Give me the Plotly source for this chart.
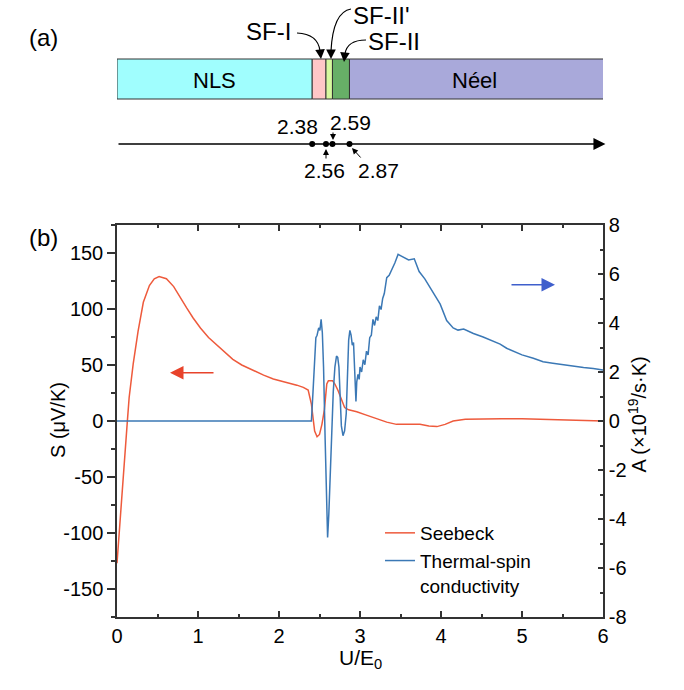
import plotly.graph_objects as go

# ---------------- data ----------------
# Seebeck coefficient S (µV/K) vs U/E0
seebeck_x = [0.0, 0.03, 0.06, 0.09, 0.127, 0.15, 0.2, 0.26, 0.325, 0.4, 0.46, 0.52, 0.61, 0.7, 0.78,
             0.86, 0.94, 1.03, 1.13, 1.23, 1.33, 1.43, 1.54, 1.67, 1.81, 1.93, 2.08, 2.22, 2.30, 2.36,
             2.40, 2.44, 2.47, 2.50, 2.53, 2.56, 2.59, 2.61, 2.66, 2.69, 2.73, 2.77, 2.81, 2.86, 2.96,
             3.07, 3.17, 3.25, 3.33, 3.45, 3.6, 3.74, 3.85, 3.95, 4.05, 4.15, 4.3, 4.5, 4.75, 5.0,
             5.25, 5.5, 5.75, 6.0]
seebeck_S = [-127, -95, -65, -37, -1, 21, 51, 80, 106, 121, 127, 129, 127, 120, 110,
             101, 92, 83, 74.5, 68, 61, 55, 50, 45.5, 41, 37.5, 35, 32, 30, 27.7,
             15, -9, -14, -12, -3, 10, 33, 36, 36, 33, 27, 19, 12, 10, 8.3,
             5.5, 3, 1, -1, -3, -3, -3, -4.5, -5, -3, 0, 1.5, 2, 2, 2,
             1.5, 1, 0.5, 0]

# Thermal-spin conductivity A (x10^19 /s·K) vs U/E0
spin_x = [0.0, 0.5, 1.0, 1.5, 2.0, 2.40, 2.42, 2.44, 2.455, 2.47, 2.49, 2.505, 2.52, 2.535, 2.55,
          2.57, 2.585, 2.60, 2.615, 2.63, 2.65, 2.67, 2.69, 2.71, 2.725, 2.74, 2.755, 2.77, 2.79,
          2.81, 2.83, 2.85, 2.86, 2.875, 2.89, 2.905, 2.92, 2.935, 2.95, 2.96, 2.975, 2.99, 3.0,
          3.02, 3.04, 3.06, 3.08, 3.10, 3.12, 3.14, 3.16, 3.18, 3.2, 3.22, 3.24, 3.26, 3.28, 3.30,
          3.33, 3.36, 3.39, 3.43, 3.47, 3.53, 3.60, 3.67, 3.73, 3.80, 3.86, 3.93, 3.99, 4.07, 4.15,
          4.21, 4.28, 4.40, 4.52, 4.62, 4.73, 4.81, 4.9, 5.0, 5.14, 5.26, 5.38, 5.51, 5.64, 5.76,
          5.88, 6.0]
spin_A = [0, 0, 0, 0, 0, 0, 1.2, 2.6, 3.4, 3.5, 3.8, 3.7, 4.15, 3.6, 2.2,
          -0.8, -3.0, -4.75, -3.8, -2.2, -0.2, 1.2, 2.2, 2.65, 2.6, 2.2, 1.0, -0.2, -0.6,
          -0.4, 0.3, 2.5, 3.3, 3.7, 3.5, 3.1, 3.2, 2.0, 0.8, 1.6, 1.9, 1.7, 2.2,
          2.0, 2.5, 2.3, 2.85, 2.7, 3.4, 3.5, 4.15, 3.9, 4.25, 4.1, 4.7, 4.55, 5.0, 5.2,
          5.85, 5.95, 6.15, 6.45, 6.8, 6.7, 6.57, 6.62, 6.1, 5.8, 5.45, 5.1, 4.77, 4.1, 3.8,
          3.71, 3.75, 3.57, 3.43, 3.3, 3.14, 2.97, 2.85, 2.7, 2.56, 2.42, 2.36, 2.29, 2.23, 2.18,
          2.14, 2.08]

# phase diagram (panel a)
phase_names = ["NLS", "SF-I", "SF-II'", "SF-II", "Néel"]
phase_start = [0.0, 2.41, 2.58, 2.66, 2.87]      # schematic positions as drawn
phase_end = [2.41, 2.58, 2.66, 2.87, 6.02]
phase_colors = ["#A0FEFE", "#FFC7C7", "#D7F99F", "#67AF67", "#A9A9DA"]
boundary_labels = ["2.38", "2.56", "2.59", "2.87"]
boundary_pos = [2.41, 2.58, 2.66, 2.87]

x_ticks = [0, 1, 2, 3, 4, 5, 6]
s_ticks = [-150, -100, -50, 0, 50, 100, 150]
a_ticks = [-8, -6, -4, -2, 0, 2, 4, 6, 8]

RED = "#EE5A3C"
BLUE = "#3B78B5"
FONT = "Liberation Sans, Arial, sans-serif"
AX = "#333333"

W, H = 684, 690
def px2x(px):
    return (px - 117) / 81.0

fig = go.Figure()

fig.add_trace(go.Scatter(x=seebeck_x, y=seebeck_S, mode="lines", name="Seebeck",
                         line=dict(color=RED, width=1.5), xaxis="x", yaxis="y"))
fig.add_trace(go.Scatter(x=spin_x, y=spin_A, mode="lines", name="Thermal-spin<br>conductivity",
                         line=dict(color=BLUE, width=1.5), xaxis="x", yaxis="y2"))
# boundary dots on the U/E0 arrow in panel (a)
fig.add_trace(go.Scatter(x=boundary_pos, y=[144] * len(boundary_pos), mode="markers",
                         marker=dict(color="black", size=6), showlegend=False,
                         xaxis="x", yaxis="y3", hoverinfo="skip"))

shapes = []
annotations = []
# phase bar
for name, s, e, c in zip(phase_names, phase_start, phase_end, phase_colors):
    shapes.append(dict(type="rect", xref="x", yref="y3", x0=s, x1=e, y0=59, y1=99,
                       fillcolor=c, line=dict(color="#333333", width=1), layer="above"))
annotations.append(dict(x=px2x(214), y=80, xref="x", yref="y3",
                        text=phase_names[0], showarrow=False, font=dict(size=22, family=FONT, color="black")))
annotations.append(dict(x=px2x(474), y=80, xref="x", yref="y3",
                        text=phase_names[4], showarrow=False, font=dict(size=22, family=FONT, color="black")))
# SF labels
for txt, cx, cy in [(phase_names[1], 268, 31), (phase_names[2], 381, 15), (phase_names[3], 394, 41)]:
    annotations.append(dict(x=px2x(cx), y=cy, xref="x", yref="y3", text=txt, showarrow=False,
                            font=dict(size=24, family=FONT, color="black")))
# curved pointer arrows
for (sx, sy), (cx, cy), (ex, ey), (hx, hy) in [
        ((297, 33), (318, 34), (320, 51), (321, 59)),
        ((351, 9), (333, 12), (331, 51), (331, 59)),
        ((366, 40), (347, 40), (345, 54), (344, 62))]:
    shapes.append(dict(type="path", xref="x", yref="y3",
                       path=f"M {px2x(sx)},{sy} Q {px2x(cx)},{cy} {px2x(ex)},{ey}",
                       line=dict(color="black", width=1.2)))
    annotations.append(dict(x=px2x(hx), y=hy, ax=px2x(ex), ay=ey - 2, xref="x", yref="y3",
                            axref="x", ayref="y3", text="", showarrow=True, arrowhead=2,
                            arrowsize=1.6, arrowwidth=1.2, arrowcolor="black", standoff=0))
# U/E0 arrow in panel (a)
annotations.append(dict(x=6.03, y=144, ax=0, ay=144, xref="x", yref="y3", axref="x", ayref="y3",
                        text="", showarrow=True, arrowhead=2, arrowsize=1.6, arrowwidth=1.5,
                        arrowcolor="black", standoff=0))
annotations.append(dict(x=px2x(614), y=168, xref="x", yref="y3", text="U/E<sub>0</sub>",
                        showarrow=False, font=dict(size=17, family=FONT, color="black")))
# boundary labels
lab_pos = {"2.38": (297.5, 126), "2.59": (350, 122), "2.56": (324, 170), "2.87": (378, 170)}
for lab in boundary_labels:
    cx, cy = lab_pos[lab]
    annotations.append(dict(x=px2x(cx), y=cy, xref="x", yref="y3", text=lab, showarrow=False,
                            font=dict(size=21, family=FONT, color="black")))
for (tx, ty), (hx, hy) in [((333, 131), (333, 140)), ((326, 160), (326, 149)), ((362, 159), (352, 148))]:
    annotations.append(dict(x=px2x(hx), y=hy, ax=px2x(tx), ay=ty, xref="x", yref="y3",
                            axref="x", ayref="y3", text="", showarrow=True, arrowhead=2,
                            arrowsize=1.2, arrowwidth=1, arrowcolor="black", standoff=0))

# direction arrows in panel (b)
annotations.append(dict(x=px2x(170), y=43, ax=px2x(215), ay=43, xref="x", yref="y", axref="x", ayref="y",
                        text="", showarrow=True, arrowhead=2, arrowsize=1.8, arrowwidth=1.5,
                        arrowcolor="#E8432B", standoff=0))
annotations.append(dict(x=px2x(555), y=121.6, ax=px2x(510), ay=121.6, xref="x", yref="y", axref="x",
                        ayref="y", text="", showarrow=True, arrowhead=2, arrowsize=1.8, arrowwidth=1.5,
                        arrowcolor="#3F5FCC", standoff=0))

# panel labels and axis titles
annotations.append(dict(x=27 / W, y=1 - 22 / H, xref="paper", yref="paper", text="(a)", showarrow=False,
                        font=dict(size=24, family=FONT, color="black")))
annotations.append(dict(x=27 / W, y=1 - 237 / H, xref="paper", yref="paper", text="(b)", showarrow=False,
                        font=dict(size=24, family=FONT, color="black")))
annotations.append(dict(x=45 / W, y=1 - 420 / H, xref="paper", yref="paper", text="S (μV/K)",
                        textangle=-90, showarrow=False, font=dict(size=20, family=FONT, color="black")))
annotations.append(dict(x=651 / W, y=1 - 415 / H, xref="paper", yref="paper",
                        text="A (×10<sup>19</sup>/s·K)", textangle=-90, showarrow=False,
                        font=dict(size=20, family=FONT, color="black")))
annotations.append(dict(x=360 / W, y=1 - 674 / H, xref="paper", yref="paper", text="U/E<sub>0</sub>",
                        showarrow=False, font=dict(size=21, family=FONT, color="black")))

fig.update_layout(
    width=W, height=H,
    margin=dict(l=0, r=0, t=0, b=0, autoexpand=False),
    paper_bgcolor="white", plot_bgcolor="white",
    font=dict(family=FONT, size=20, color="black"),
    shapes=shapes, annotations=annotations,
    showlegend=True,
    legend=dict(x=380 / W, y=1 - 514 / H, xanchor="left", yanchor="top", bgcolor="rgba(0,0,0,0)",
                font=dict(size=19, family=FONT, color="black"), valign="top", tracegroupgap=0),
    xaxis=dict(domain=[117 / W, 603 / W], range=[0, 6], anchor="y", automargin=False,
               tickvals=x_ticks, ticktext=[str(v) for v in x_ticks],
               showline=True, linecolor=AX, linewidth=1.5, mirror="ticks",
               ticks="inside", ticklen=6, tickwidth=1.5, tickcolor=AX,
               minor=dict(ticks="inside", ticklen=3, dtick=0.5, tickcolor=AX, tickwidth=1.5),
               showgrid=False, zeroline=False, tickfont=dict(size=20)),
    yaxis=dict(domain=[1 - 617 / H, 1 - 225 / H], range=[-175, 175], anchor="x", automargin=False,
               tickvals=s_ticks, ticktext=[str(v) for v in s_ticks],
               showline=True, linecolor=AX, linewidth=1.5,
               ticks="outside", ticklen=8, tickwidth=1.5, tickcolor=AX,
               minor=dict(ticks="outside", ticklen=4, dtick=25, tickcolor=AX, tickwidth=1.5),
               showgrid=False, zeroline=False, tickfont=dict(size=20)),
    yaxis2=dict(overlaying="y", side="right", anchor="x", range=[-8, 8], automargin=False,
                tickvals=a_ticks, ticktext=[str(v) for v in a_ticks],
                showline=True, linecolor=AX, linewidth=1.5,
                ticks="inside", ticklen=5, tickwidth=1.5, tickcolor=AX,
                minor=dict(ticks="inside", ticklen=3, dtick=1, tickcolor=AX, tickwidth=1.5),
                showgrid=False, zeroline=False, tickfont=dict(size=20)),
    yaxis3=dict(domain=[0.72, 1.0], range=[0.28 * H, 0], anchor="x", visible=False,
                automargin=False, showgrid=False, zeroline=False),
)

fig.write_html("out.html", config={"displayModeBar": False},
               post_script="document.body.style.margin='0px';document.body.style.padding='0px';")
